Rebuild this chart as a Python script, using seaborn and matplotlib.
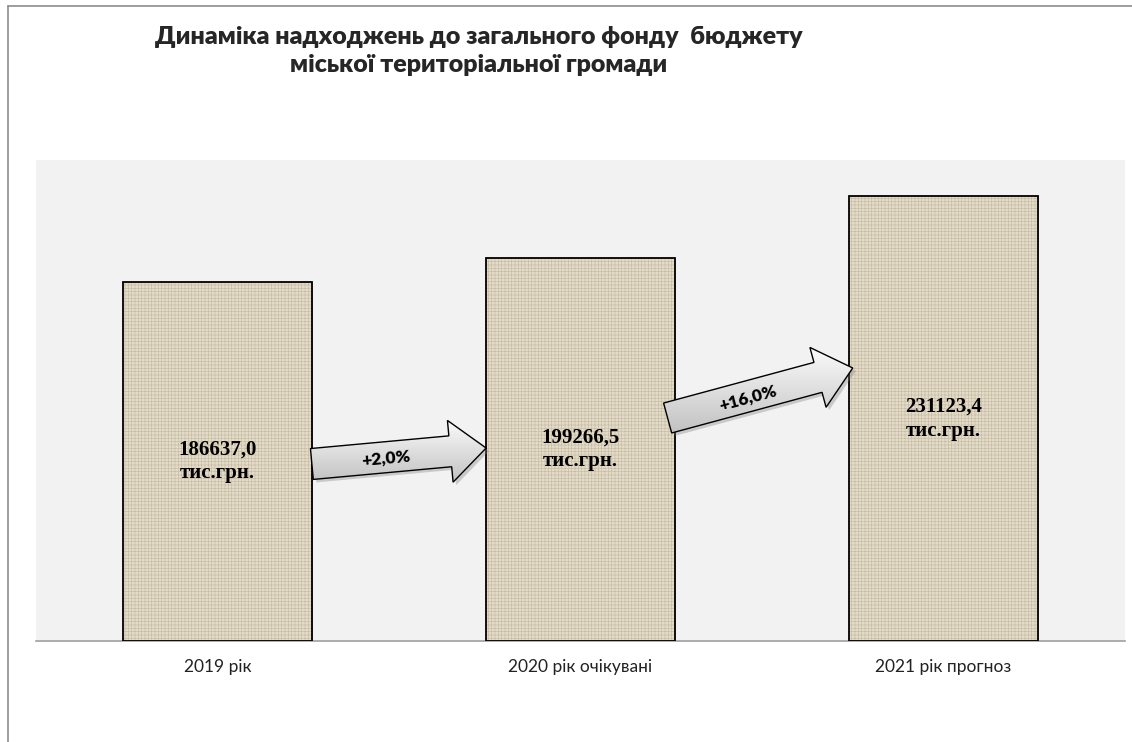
import numpy as np
import pandas as pd
import matplotlib
matplotlib.use('Agg')
import matplotlib.pyplot as plt
from matplotlib.patches import Polygon, Rectangle
from matplotlib.lines import Line2D
import seaborn as sns

# data
categorias = ['2019 рік', '2020 рік очікувані', '2021 рік прогноз']
valores = [186637.0, 199266.5, 231123.4]
etiquetas = ['186637,0\nтис.грн.', '199266,5\nтис.грн.', '231123,4\nтис.грн.']
crecimiento = ['+2,0%', '+16,0%']
# y of arrow tail / tip (data units)
flecha_y = [(92000, 100300), (115900, 141900)]
titulo = 'Динаміка надходжень до загального фонду  бюджету\nміської територіальної громади'

ANCHO = 0.52
SANS = ['Lato', 'DejaVu Sans']
SERIF = ['Liberation Serif', 'DejaVu Serif']


def puntos_flecha(p0, p1, hw=15.5, hh=31.0, hl=36.0):
    # arrow outline in pixels
    p0 = np.array(p0, dtype=float)
    p1 = np.array(p1, dtype=float)
    u = (p1 - p0) / np.linalg.norm(p1 - p0)
    n = np.array([-u[1], u[0]])
    b = p1 - u * hl
    return np.array([p0 + n * hw, b + n * hw, b + n * hh, p1,
                     b - n * hh, b - n * hw, p0 - n * hw])


def dibuja_flecha(ax, x0, y0, x1, y1, texto):
    tr = ax.transData
    p0 = tr.transform((x0, y0))
    p1 = tr.transform((x1, y1))
    pts = puntos_flecha(p0, p1)
    # shadow
    sombra = tr.inverted().transform(pts + np.array([3, -3]))
    ax.add_patch(Polygon(sombra, closed=True, facecolor='#7f7f7f', alpha=0.35,
                         edgecolor='none', zorder=4))
    datos = tr.inverted().transform(pts)
    poly = Polygon(datos, closed=True, facecolor='none', edgecolor='black',
                   linewidth=1.0, zorder=6)
    ax.add_patch(poly)
    xmin, ymin = datos.min(axis=0)
    xmax, ymax = datos.max(axis=0)
    grad = np.linspace(0, 1, 100).reshape(-1, 1)
    cmap = matplotlib.colors.LinearSegmentedColormap.from_list('g', ['#c2c2c2', '#fbfbfb'])
    im = ax.imshow(grad, cmap=cmap, aspect='auto', origin='lower',
                   extent=(xmin, xmax, ymin, ymax), zorder=5)
    im.set_clip_path(poly)
    # label on shaft
    base = p1 - (p1 - p0) / np.linalg.norm(p1 - p0) * 36
    centro = (p0 + base) / 2 + np.array([5, -1])
    ang = np.degrees(np.arctan2(p1[1] - p0[1], p1[0] - p0[0]))
    cx, cy = tr.inverted().transform(centro)
    ax.text(cx, cy, texto, rotation=ang, rotation_mode='anchor', ha='center', va='center',
            fontsize=12.5, fontweight='heavy', family=SANS, color='black', zorder=7)


def genera_grafico():
    sns.set_style('white')
    plt.rcParams['font.family'] = SANS
    plt.rcParams['hatch.linewidth'] = 0.5

    df = pd.DataFrame({'anio': categorias, 'valor': valores})
    fig = plt.figure(figsize=(11.32, 7.42), dpi=100)
    fig.patch.set_facecolor('white')
    ax = fig.add_axes([36 / 1132, 101 / 742, 1089 / 1132, 481 / 742])
    ax.set_facecolor('#f2f2f2')

    sns.barplot(data=df, x='anio', y='valor', color='#e4dccb', width=ANCHO,
                saturation=1, ax=ax, zorder=2)
    for p in ax.patches:
        p.set_hatch('+++++')
        p.set_edgecolor('#c9bda4')
        p.set_linewidth(0)
        ax.add_patch(Rectangle((p.get_x() + 0.004, p.get_y()), p.get_width(), p.get_height(),
                               facecolor='#8a8a8a', alpha=0.5, edgecolor='none', zorder=1.5))
        ax.add_patch(Rectangle((p.get_x(), p.get_y()), p.get_width(), p.get_height(),
                               fill=False, edgecolor='black', linewidth=1.3, zorder=3))

    ax.set_xlim(-0.5, 2.5)
    ax.set_ylim(0, 250000)
    ax.set_yticks([])
    ax.set_xlabel('')
    ax.set_ylabel('')
    ax.tick_params(axis='x', length=0, pad=13, labelsize=12.5, labelcolor='#222222')
    for s in ['top', 'left', 'right']:
        ax.spines[s].set_visible(False)
    ax.spines['bottom'].set_color('#a0a0a0')
    ax.spines['bottom'].set_linewidth(1.2)

    for i, v in enumerate(valores):
        ax.text(i, v / 2, etiquetas[i], ha='center', va='center', fontsize=15,
                fontweight='bold', family=SERIF, linespacing=1.25, color='black', zorder=4)

    # arrows between bars
    dibuja_flecha(ax, 0 + ANCHO / 2, flecha_y[0][0], 1 - ANCHO / 2, flecha_y[0][1], crecimiento[0])
    dibuja_flecha(ax, 1 + ANCHO / 2 - 0.02, flecha_y[1][0], 2 - ANCHO / 2 + 0.01, flecha_y[1][1],
                  crecimiento[1])

    fig.text(479 / 1132, 1 - 51 / 742, titulo, ha='center', va='center', fontsize=18,
             fontweight='heavy', family=SANS, linespacing=1.35)

    # frame lines
    fig.add_artist(Line2D([8 / 1132, 8 / 1132], [0, 1 - 6 / 742], color='#8c8c8c', lw=1.2))
    fig.add_artist(Line2D([8 / 1132, 1], [1 - 6 / 742, 1 - 6 / 742], color='#8c8c8c', lw=1.2))

    fig.savefig('out.png', dpi=100, facecolor='white')


if __name__ == '__main__':
    genera_grafico()
